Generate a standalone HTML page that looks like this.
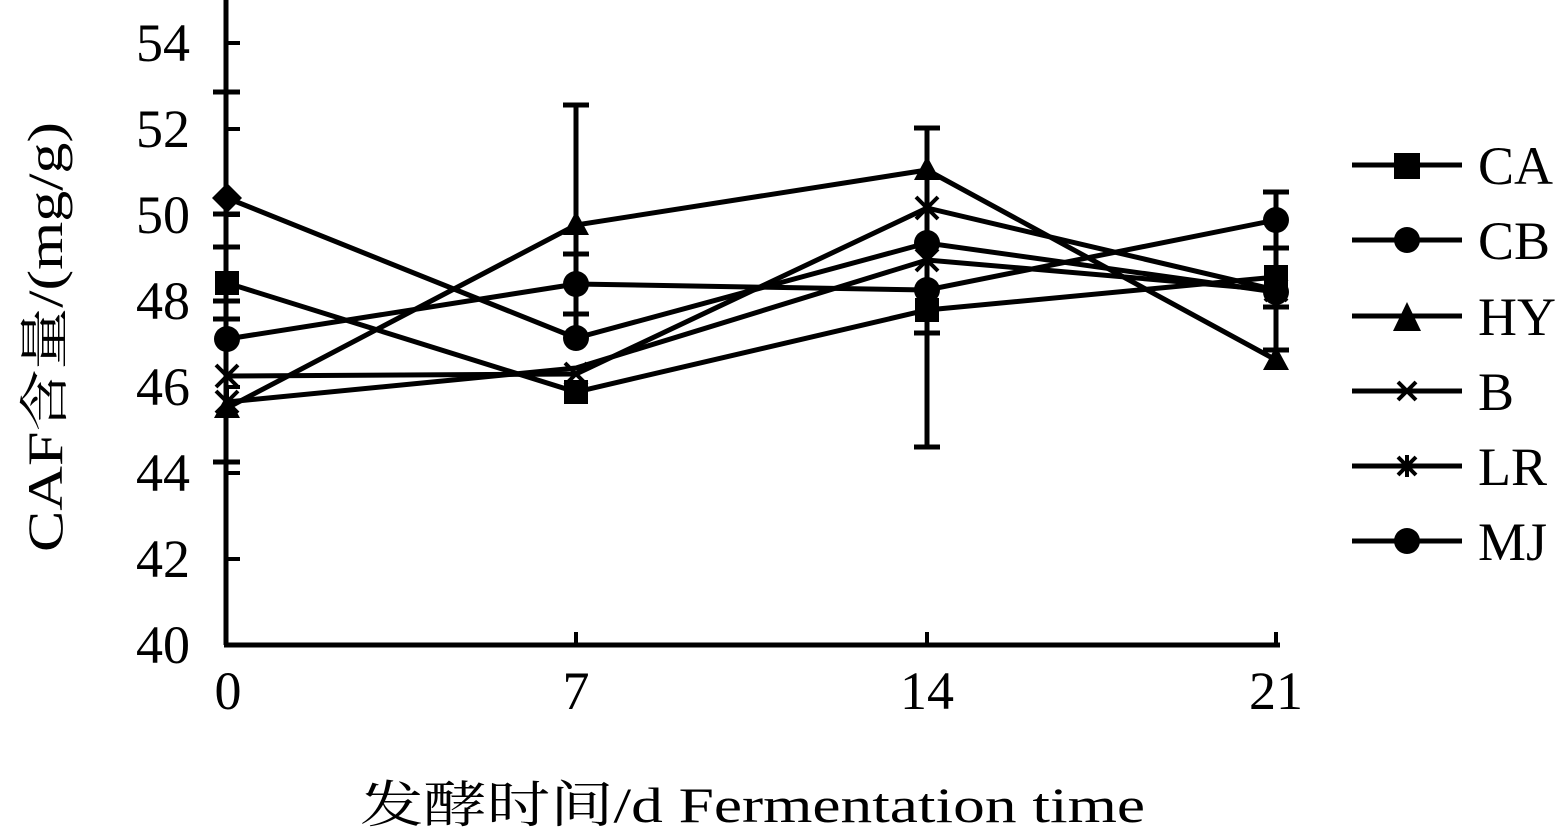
<!DOCTYPE html>
<html><head><meta charset="utf-8"><style>body{margin:0;background:#fff}svg{display:block}</style></head>
<body>
<svg width="1568" height="834" viewBox="0 0 1568 834" xmlns="http://www.w3.org/2000/svg" font-family="'Liberation Serif','Noto Serif CJK SC',serif">
<g stroke="#000" stroke-width="5" fill="none">
<line x1="226" y1="0" x2="226" y2="645"/>
<line x1="224" y1="645" x2="1280" y2="645"/>
<g stroke-width="4">
<line x1="226" y1="43" x2="240" y2="43"/><line x1="226" y1="129" x2="240" y2="129"/><line x1="226" y1="215" x2="240" y2="215"/><line x1="226" y1="301" x2="240" y2="301"/><line x1="226" y1="387" x2="240" y2="387"/><line x1="226" y1="473" x2="240" y2="473"/><line x1="226" y1="559" x2="240" y2="559"/>
<line x1="576" y1="632" x2="576" y2="645"/><line x1="927" y1="632" x2="927" y2="645"/><line x1="1276" y1="632" x2="1276" y2="645"/>
</g>
<g stroke-width="5">
<line x1="576" y1="105" x2="576" y2="340"/><line x1="563" y1="105" x2="589" y2="105"/><line x1="563" y1="254" x2="589" y2="254"/><line x1="563" y1="314" x2="589" y2="314"/>
<line x1="927" y1="128" x2="927" y2="447"/><line x1="914" y1="128" x2="940" y2="128"/><line x1="914" y1="447" x2="940" y2="447"/><line x1="914" y1="333" x2="940" y2="333"/>
<line x1="1276" y1="192" x2="1276" y2="350"/><line x1="1263" y1="192" x2="1289" y2="192"/><line x1="1263" y1="248" x2="1289" y2="248"/><line x1="1263" y1="307" x2="1289" y2="307"/><line x1="1263" y1="350" x2="1289" y2="350"/>
<line x1="213" y1="92" x2="240" y2="92"/><line x1="213" y1="214" x2="240" y2="214"/><line x1="213" y1="247" x2="240" y2="247"/><line x1="213" y1="301" x2="240" y2="301"/><line x1="213" y1="319" x2="240" y2="319"/><line x1="213" y1="462" x2="240" y2="462"/>
</g>
<polyline points="227,198 576,338 927,243 1276,292"/>
<polyline points="227,283 576,392 927,310 1276,277"/>
<polyline points="227,339 576,284 927,290 1276,220"/>
<polyline points="227,408 576,225 927,170 1276,360"/>
<polyline points="227,376 576,374 927,208 1276,290"/>
<polyline points="227,402 576,368 927,260 1276,290"/>
</g>
<g fill="#000">
<polygon points="227,183 242,198 227,213 212,198"/><circle cx="576" cy="338" r="13"/><circle cx="927" cy="243" r="13"/><circle cx="1276" cy="292" r="13"/>
<rect x="215" y="271" width="24" height="24"/><rect x="564" y="380" width="24" height="24"/><rect x="915" y="298" width="24" height="24"/><rect x="1264" y="265" width="24" height="24"/>
<circle cx="227" cy="339" r="13"/><circle cx="576" cy="284" r="13"/><circle cx="927" cy="290" r="13"/><circle cx="1276" cy="220" r="13"/>
<polygon points="227,394 240,418 214,418"/><polygon points="576,211 589,235 563,235"/><polygon points="927,156 940,180 914,180"/><polygon points="1276,346 1289,370 1263,370"/>
</g>
<g stroke="#000" stroke-width="4">
<path d="M216 365l22 22M238 365l-22 22M565 363l22 22M587 363l-22 22M916 197l22 22M938 197l-22 22M1265 279l22 22M1287 279l-22 22"/>
<path d="M216 391l22 22M238 391l-22 22M227 389v26M916 249l22 22M938 249l-22 22M927 247v26"/>
</g>
<g font-size="54" text-anchor="end">
<text x="190" y="61">54</text><text x="190" y="147">52</text><text x="190" y="233">50</text><text x="190" y="319">48</text><text x="190" y="405">46</text><text x="190" y="491">44</text><text x="190" y="577">42</text><text x="190" y="663">40</text>
</g>
<g font-size="54" text-anchor="middle">
<text x="228" y="709">0</text><text x="576" y="709">7</text><text x="927" y="709">14</text><text x="1276" y="709">21</text>
</g>
<text x="360" y="822" font-size="50" textLength="785" lengthAdjust="spacingAndGlyphs">发酵时间/d  Fermentation time</text>
<text transform="translate(62,552) rotate(-90)" font-size="50" textLength="430" lengthAdjust="spacingAndGlyphs">CAF含量/(mg/g)</text>
<g stroke="#000" stroke-width="5">
<line x1="1352" y1="165" x2="1462" y2="165"/><line x1="1352" y1="240" x2="1462" y2="240"/><line x1="1352" y1="316" x2="1462" y2="316"/><line x1="1352" y1="391" x2="1462" y2="391"/><line x1="1352" y1="466" x2="1462" y2="466"/><line x1="1352" y1="541" x2="1462" y2="541"/>
<path d="M1398 382l18 18M1416 382l-18 18M1398 457l18 18M1416 457l-18 18M1407 455v22" stroke-width="4"/>
</g>
<g fill="#000">
<rect x="1394" y="153" width="26" height="26"/><circle cx="1407" cy="240" r="13"/><polygon points="1407,302 1421,331 1393,331"/><circle cx="1407" cy="541" r="13"/>
</g>
<g font-size="54">
<text x="1478" y="184">CA</text><text x="1478" y="259">CB</text><text x="1478" y="335">HY</text><text x="1478" y="410">B</text><text x="1478" y="485">LR</text><text x="1478" y="560">MJ</text>
</g>
</svg>
</body></html>
